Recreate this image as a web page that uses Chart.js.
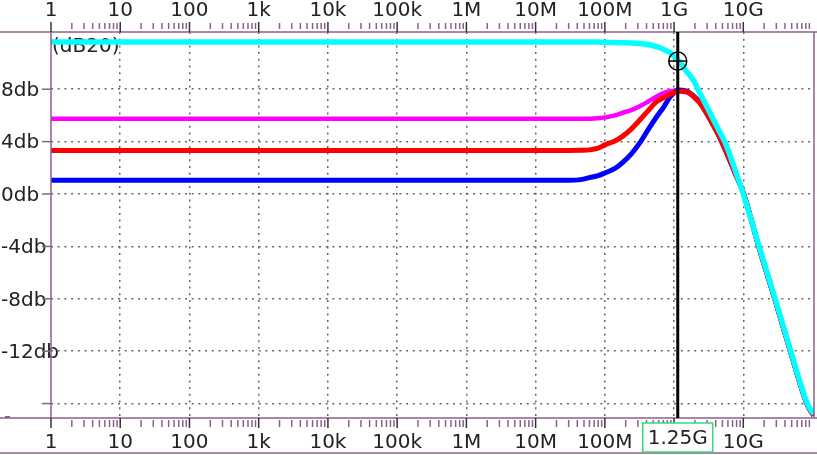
<!DOCTYPE html>
<html>
<head>
<meta charset="utf-8">
<script src="https://cdn.jsdelivr.net/npm/chart.js@4"></script>
<style>
  html, body { margin: 0; padding: 0; background: #fff; }
  canvas { display: block; }
</style>
</head>
<body>
<canvas id="chart" width="817" height="455"></canvas>
<script>
// frequency points (Hz) shared by all traces
const freqs = [1, 1e7, 3e7, 4.5e7, 6e7, 8e7, 1e8, 1.4e8, 1.8e8, 2.4e8, 3.2e8, 4.2e8, 5.6e8, 7e8, 8.7e8, 1.2e9, 1.55e9, 1.9e9, 2.36e9, 3.3e9, 4.3e9, 5.8e9, 7.6e9, 1e10, 1.69e10, 2.88e10, 4.84e10, 8.4e10, 1.04e11];
const cyanDb    = [11.6, 11.6, 11.6, 11.6, 11.6, 11.6, 11.58, 11.57, 11.55, 11.53, 11.5, 11.42, 11.25, 11.05, 10.8, 10.1, 9.3, 8.7, 7.7, 6.2, 5.0, 3.6, 1.84, 0, -4, -8, -12, -16, -16.8];
const redDb     = [3.33, 3.33, 3.33, 3.34, 3.37, 3.5, 3.75, 4.05, 4.4, 4.95, 5.65, 6.35, 7.05, 7.35, 7.6, 7.85, 7.8, 7.45, 6.95, 5.7, 4.6, 3.1, 1.6, 0.1, -4.1, -8.1, -12.1, -16.1, -16.9];
const blueDb    = [1.05, 1.05, 1.05, 1.1, 1.25, 1.4, 1.6, 1.95, 2.4, 3.05, 3.9, 4.9, 5.9, 6.6, 7.4, 7.95, 7.85, 7.5, 7.0, 5.75, 4.6, 3.1, 1.6, 0.1, -4.1, -8.1, -12.1, -16.1, -16.9];
const magentaDb = [5.75, 5.75, 5.75, 5.75, 5.75, 5.78, 5.85, 6.0, 6.2, 6.4, 6.7, 7.05, 7.45, 7.7, 7.85, 7.9, 7.75, 7.45, 6.95, 5.7, 4.6, 3.1, 1.6, 0.1, -4.1, -8.1, -12.1, -16.1, -16.9];

// axis ticks
const decades = [1, 10, 100, 1e3, 1e4, 1e5, 1e6, 1e7, 1e8, 1e9, 1e10];
const topLabels = ['1', '10', '100', '1k', '10k', '100k', '1M', '10M', '100M', '1G', '10G'];
const bottomLabels = ['1', '10', '100', '1k', '10k', '100k', '1M', '10M', '100M', '', '10G'];
const ySteps = [8, 4, 0, -4, -8, -12, -16];
const yLabels = ['8db', '4db', '0db', '-4db', '-8db', '-12db', ''];

const xMin = 1, xMax = 1.05e11;
const yMin = -17.1, yMax = 12.37;

// cursor
const cursorFreq = 1.13e9;
const cursorLabel = '1.25G';
const markerDb = 10.15;

const minorTicks = [];
decades.forEach(d => {
    for (let m = 2; m <= 9; m++) {
        if (d * m < xMax) minorTicks.push(d * m);
    }
});

const frameColor = '#8b5f8b';
const gridColor = '#666';
const FONT = 'DejaVu Sans';

Chart.defaults.font.family = FONT;
Chart.defaults.font.size = 20;
Chart.defaults.color = '#222';

function toPoints(values) {
    return freqs.map((f, i) => ({ x: f, y: values[i] }));
}

function line(ctx, x1, y1, x2, y2) {
    ctx.beginPath();
    ctx.moveTo(x1, y1);
    ctx.lineTo(x2, y2);
    ctx.stroke();
}

const overlay = {
    id: 'overlay',
    beforeDatasetsDraw(chart) {
        const { ctx, chartArea } = chart;
        ctx.save();
        ctx.font = `20px "${FONT}"`;
        ctx.fillStyle = '#222';
        ctx.textBaseline = 'alphabetic';
        ctx.fillText('(dB20)', chartArea.left + 1, chartArea.top + 20);
        ctx.restore();
    },
    afterDraw(chart) {
        const { ctx, chartArea, width } = chart;
        const { left, right, top, bottom } = chartArea;
        const xs = chart.scales.x, ys = chart.scales.y;
        ctx.save();

        // y labels (drawn here so long ones can run over the axis)
        ctx.font = `20px "${FONT}"`;
        ctx.fillStyle = '#222';
        ctx.textAlign = 'left';
        ctx.textBaseline = 'middle';
        ySteps.forEach((v, i) => {
            ctx.fillText(yLabels[i], 1, ys.getPixelForValue(v) + 1.5);
        });

        // frame
        ctx.strokeStyle = frameColor;
        ctx.lineWidth = 1.5;
        line(ctx, 0, top, width, top);
        line(ctx, 0, bottom, width, bottom);
        line(ctx, left, top, left, bottom);
        line(ctx, right, top, right, bottom);
        line(ctx, 0, 453, width, 453);
        ctx.lineWidth = 2;
        line(ctx, 5, bottom - 1, 10, bottom - 1);
        ctx.lineWidth = 1.5;

        // minor ticks
        minorTicks.forEach(v => {
            const px = xs.getPixelForValue(v);
            line(ctx, px, top - 9, px, top - 3);
            line(ctx, px, bottom + 2, px, bottom + 9);
        });
        ySteps.forEach(v => {
            const py = ys.getPixelForValue(v);
            line(ctx, left - 9, py, left, py);
        });
        // major ticks
        ctx.strokeStyle = '#333';
        decades.forEach(v => {
            const px = xs.getPixelForValue(v);
            line(ctx, px, top - 10, px, top);
            line(ctx, px, bottom, px, bottom + 10);
        });

        // cursor line
        const cx = xs.getPixelForValue(cursorFreq);
        ctx.strokeStyle = '#000';
        ctx.lineWidth = 3;
        line(ctx, cx, top, cx, bottom);

        // marker on cyan trace
        const my = ys.getPixelForValue(markerDb);
        ctx.lineWidth = 1.5;
        ctx.beginPath();
        ctx.arc(cx, my, 9, 0, Math.PI * 2);
        ctx.stroke();
        line(ctx, cx - 9, my, cx + 9, my);

        // cursor value box
        const w = ctx.measureText(cursorLabel).width;
        const bx = cx - w / 2 - 5, by = bottom + 5, bw = w + 10, bh = 29;
        ctx.fillStyle = '#fff';
        ctx.fillRect(bx, by, bw, bh);
        ctx.strokeStyle = '#33dd77';
        ctx.lineWidth = 1.5;
        ctx.strokeRect(bx, by, bw, bh);
        ctx.fillStyle = '#222';
        ctx.textAlign = 'center';
        ctx.textBaseline = 'middle';
        ctx.fillText(cursorLabel, cx, by + bh / 2 + 1);

        ctx.restore();
    }
};

const traceStyle = { pointRadius: 0, fill: false, cubicInterpolationMode: 'monotone' };

new Chart(document.getElementById('chart'), {
    type: 'line',
    data: {
        datasets: [
            { label: 'cyan', data: toPoints(cyanDb), borderColor: '#00ffff', borderWidth: 5.5, ...traceStyle },
            { label: 'red', data: toPoints(redDb), borderColor: '#ff0000', borderWidth: 5, ...traceStyle },
            { label: 'blue', data: toPoints(blueDb), borderColor: '#0000ff', borderWidth: 5, ...traceStyle },
            { label: 'magenta', data: toPoints(magentaDb), borderColor: '#ff00ff', borderWidth: 4.5, ...traceStyle }
        ]
    },
    options: {
        responsive: false,
        animation: false,
        devicePixelRatio: 1,
        layout: { padding: { left: 1, right: 3, top: 0, bottom: 0 } },
        plugins: { legend: { display: false }, tooltip: { enabled: false } },
        scales: {
            x: {
                type: 'logarithmic',
                position: 'bottom',
                min: xMin,
                max: xMax,
                afterBuildTicks: s => { s.ticks = decades.map(v => ({ value: v })); },
                afterFit: s => { s.height = 37; },
                grid: {
                    drawTicks: false,
                    lineWidth: 1.5,
                    color: ctx => (ctx.tick && ctx.tick.value > 1) ? gridColor : 'rgba(0,0,0,0)'
                },
                border: { display: false, dash: [2, 4.7] },
                ticks: { autoSkip: false, maxRotation: 0, padding: 13, callback: (v, i) => bottomLabels[i] }
            },
            xTop: {
                type: 'logarithmic',
                position: 'top',
                min: xMin,
                max: xMax,
                afterBuildTicks: s => { s.ticks = decades.map(v => ({ value: v })); },
                afterFit: s => { s.height = 32; },
                grid: { display: false, drawTicks: false },
                border: { display: false },
                ticks: { autoSkip: false, maxRotation: 0, padding: 9, callback: (v, i) => topLabels[i] }
            },
            y: {
                min: yMin,
                max: yMax,
                afterBuildTicks: s => { s.ticks = ySteps.map(v => ({ value: v })); },
                afterFit: s => { s.width = 50; },
                grid: { drawTicks: false, lineWidth: 1.5, color: gridColor },
                border: { display: false, dash: [2, 4.7] },
                ticks: { display: false }
            }
        }
    },
    plugins: [overlay]
});
</script>
</body>
</html>
